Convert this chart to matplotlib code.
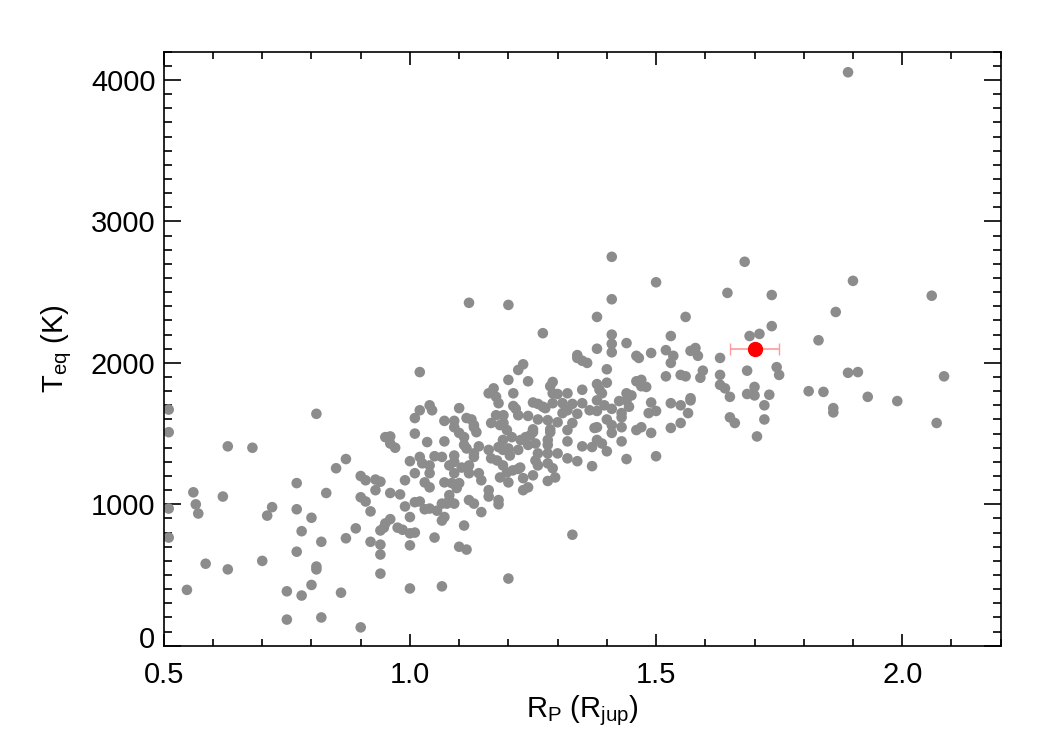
import numpy as np
import matplotlib.pyplot as plt
import matplotlib.transforms as mtransforms
from matplotlib.ticker import MultipleLocator, FormatStrFormatter

plt.rcParams['font.family'] = 'Liberation Sans'
plt.rcParams['mathtext.fontset'] = 'custom'
plt.rcParams['mathtext.rm'] = 'Liberation Sans'
plt.rcParams['mathtext.it'] = 'Liberation Sans'

# planets with R_p < ~1.0 R_jup
r_left = [0.51, 0.81, 0.51, 0.63, 0.68, 0.85, 0.87, 0.77, 0.83, 0.56,
          0.62, 0.565, 0.51, 0.57, 0.72, 0.71, 0.77, 0.80, 0.78, 0.51,
          0.82, 0.87, 0.89, 0.77, 0.585, 0.63, 0.70, 0.81, 0.81, 0.80,
          0.547, 0.75, 0.78, 0.86, 0.75, 0.82, 0.90, 0.94, 0.90, 0.91,
          0.93, 0.94, 0.93, 0.90, 0.91, 0.92, 0.96, 0.98, 0.99, 0.95,
          0.96, 0.96, 0.97, 1.01, 1.00, 1.01, 1.01, 0.99, 1.00, 0.96,
          0.95, 0.947, 0.94, 0.975, 0.985, 1.00, 1.01, 1.00, 0.92, 0.94,
          0.94, 1.00, 1.01, 1.02, 1.02]
t_left = [1670, 1640, 1510, 1410, 1400, 1255, 1320, 1150, 1080, 1085,
          1055, 1000, 970, 935, 980, 920, 965, 905, 810, 765,
          735, 760, 830, 665, 580, 540, 600, 560, 540, 430,
          395, 385, 355, 375, 185, 200, 130, 510, 1200, 1170,
          1175, 1160, 1100, 1050, 1020, 950, 1080, 1070, 1170, 1475,
          1480, 1430, 1400, 1500, 1305, 1220, 1015, 985, 910, 895,
          865, 835, 815, 835, 820, 795, 800, 710, 735, 715,
          645, 405, 1610, 1935, 1665]

# middle, upper part (T > ~1530 K)
r_mid_hi = [1.41, 1.50, 1.12, 1.20, 1.41, 1.38, 1.56, 1.27, 1.41, 1.53,
            1.44, 1.41, 1.38, 1.41, 1.49, 1.46, 1.465, 1.52, 1.535, 1.53,
            1.57, 1.34, 1.34, 1.35, 1.36, 1.23, 1.22, 1.40, 1.52, 1.55,
            1.56, 1.20, 1.24, 1.29, 1.285, 1.38, 1.40, 1.46, 1.47, 1.47,
            1.48, 1.17, 1.16, 1.175, 1.21, 1.18, 1.29, 1.30, 1.32, 1.35,
            1.385, 1.39, 1.38, 1.395, 1.44, 1.45, 1.44, 1.425, 1.445, 1.49,
            1.53, 1.55, 1.57, 1.04, 1.045, 1.10, 1.07, 1.09, 1.115, 1.125,
            1.13, 1.09, 1.165, 1.175, 1.19, 1.19, 1.21, 1.215, 1.22, 1.24,
            1.26, 1.25, 1.26, 1.27, 1.275, 1.29, 1.28, 1.30, 1.31, 1.32,
            1.33, 1.31, 1.33, 1.34, 1.35, 1.365, 1.38, 1.41, 1.43, 1.43,
            1.40, 1.41, 1.485, 1.50, 1.55, 1.565, 1.53, 1.47, 1.25, 1.285,
            1.38]
t_mid_hi = [2750, 2570, 2425, 2410, 2450, 2325, 2325, 2210, 2200, 2190,
            2140, 2135, 2100, 2075, 2070, 2050, 2035, 2090, 2050, 2000,
            2085, 2055, 2035, 2015, 2000, 1990, 1950, 1955, 1905, 1915,
            1905, 1880, 1870, 1865, 1835, 1850, 1860, 1870, 1880, 1835,
            1830, 1820, 1785, 1760, 1785, 1715, 1785, 1780, 1785, 1810,
            1810, 1785, 1735, 1700, 1785, 1770, 1735, 1730, 1690, 1720,
            1715, 1700, 1750, 1700, 1665, 1680, 1590, 1590, 1610, 1600,
            1560, 1545, 1575, 1630, 1630, 1575, 1695, 1675, 1630, 1625,
            1600, 1720, 1710, 1690, 1680, 1715, 1595, 1580, 1715, 1665,
            1710, 1645, 1575, 1640, 1715, 1665, 1660, 1675, 1645, 1615,
            1600, 1560, 1645, 1660, 1575, 1645, 1540, 1545, 1530, 1530,
            1545]

# middle, lower part
r_mid_lo = [1.035, 1.07, 1.10, 1.11, 1.13, 1.135, 1.183, 1.197, 1.207, 1.189,
            1.11, 1.115, 1.14, 1.13, 1.13, 1.16, 1.165, 1.18, 1.20, 1.22,
            1.225, 1.235, 1.245, 1.25, 1.24, 1.255, 1.285, 1.28, 1.28, 1.26,
            1.28, 1.30, 1.32, 1.32, 1.35, 1.37, 1.375, 1.38, 1.39, 1.40,
            1.41, 1.43, 1.43, 1.46, 1.49, 1.44, 1.50, 1.32, 1.34, 1.37,
            1.02, 1.025, 1.04, 1.05, 1.065, 1.09, 1.09, 1.08, 1.105, 1.12,
            1.04, 1.03, 1.04, 1.07, 1.085, 1.10, 1.095, 1.09, 1.12, 1.14,
            1.145, 1.177, 1.189, 1.197, 1.183, 1.209, 1.224, 1.203, 1.189, 1.20,
            1.22, 1.23, 1.23, 1.24, 1.25, 1.255, 1.26, 1.28, 1.29, 1.295,
            1.28, 1.16, 1.16, 1.18, 1.18, 1.12, 1.13, 1.145, 1.02, 1.03,
            1.04, 1.055, 1.065, 1.08, 1.075, 1.09, 1.08, 1.065, 1.07, 1.11,
            1.05, 1.10, 1.115, 1.33, 1.20, 1.065]
t_mid_lo = [1440, 1445, 1505, 1475, 1545, 1510, 1560, 1525, 1475, 1455,
            1420, 1395, 1410, 1360, 1335, 1385, 1325, 1405, 1395, 1385,
            1455, 1475, 1490, 1510, 1420, 1430, 1510, 1455, 1420, 1360,
            1360, 1360, 1525, 1445, 1410, 1405, 1540, 1455, 1430, 1375,
            1505, 1545, 1445, 1525, 1505, 1320, 1340, 1325, 1305, 1270,
            1335, 1290, 1275, 1340, 1335, 1345, 1300, 1275, 1260, 1275,
            1220, 1155, 1120, 1155, 1150, 1150, 1115, 1220, 1220, 1220,
            1170, 1310, 1275, 1225, 1190, 1240, 1260, 1345, 1385, 1155,
            1250, 1185, 1100, 1120, 1205, 1310, 1275, 1290, 1255, 1190,
            1165, 1100, 1055, 1030, 1000, 1030, 1005, 945, 1020, 965,
            970, 955, 1005, 1065, 1005, 1005, 1030, 885, 910, 850,
            765, 700, 680, 785, 475, 420]

# planets with R_p > ~1.55 R_jup
r_right = [1.68, 1.90, 1.645, 1.735, 2.06, 1.865, 1.735, 1.69, 1.71, 1.83,
           1.58, 1.585, 1.63, 1.745, 1.75, 1.685, 1.63, 1.595, 1.59, 1.89,
           1.91, 2.085, 1.63, 1.64, 1.70, 1.685, 1.70, 1.65, 1.73, 1.81,
           1.84, 1.93, 1.99, 1.57, 1.72, 1.86, 1.86, 1.65, 1.66, 1.72,
           2.07, 1.705, 1.89]
t_right = [2715, 2580, 2495, 2480, 2475, 2360, 2260, 2190, 2205, 2160,
           2105, 2050, 2035, 1970, 1915, 1945, 1915, 1945, 1895, 1930,
           1935, 1905, 1845, 1820, 1830, 1780, 1770, 1760, 1775, 1800,
           1795, 1760, 1730, 1735, 1700, 1680, 1650, 1615, 1575, 1600,
           1575, 1480, 4055]

# highlighted planet
r_target = [1.70]
t_target = [2100]
r_target_err = [0.05]

r_all = np.concatenate([r_left, r_mid_hi, r_mid_lo, r_right])
t_all = np.concatenate([t_left, t_mid_hi, t_mid_lo, t_right])

fig = plt.figure(figsize=(10.5, 7.5), dpi=100)
ax = fig.add_axes([0.156, 0.139, 0.797, 0.792])

ax.scatter(r_all, t_all, s=58, c='#8c8c8c', edgecolors='none', zorder=2)
ax.errorbar(r_target, t_target, xerr=r_target_err, fmt='o', color='red',
            ms=10, ecolor='#ff9a9a', elinewidth=1.2, capsize=4, zorder=3)

ax.set_xlim(0.5, 2.2)
ax.set_ylim(0, 4200)
ax.xaxis.set_major_locator(MultipleLocator(0.5))
ax.xaxis.set_minor_locator(MultipleLocator(0.1))
ax.yaxis.set_major_locator(MultipleLocator(1000))
ax.yaxis.set_minor_locator(MultipleLocator(100))
ax.xaxis.set_major_formatter(FormatStrFormatter('%.1f'))

ax.tick_params(which='both', direction='in', top=True, right=True,
               labelsize=21, width=1.2)
ax.tick_params(axis='x', which='major', length=9, pad=11)
ax.tick_params(axis='x', which='minor', length=5)
ax.tick_params(axis='y', which='major', length=12, pad=6)
ax.tick_params(axis='y', which='minor', length=6)
for sp in ax.spines.values():
    sp.set_linewidth(1.2)

ax.set_xlabel(r'R$_\mathrm{P}$ (R$_\mathrm{jup}$)', fontsize=21, labelpad=3)
ax.set_ylabel(r'T$_\mathrm{eq}$ (K)', fontsize=21, labelpad=12)

# the "0" label sits a little above its tick in the original
fig.canvas.draw()
for tick in ax.yaxis.get_major_ticks():
    if abs(tick.get_loc()) < 1e-6:
        lab = tick.label1
        lab.set_transform(lab.get_transform() +
                          mtransforms.ScaledTranslation(0, 6 / 72, fig.dpi_scale_trans))

fig.savefig('out.png', dpi=100)
